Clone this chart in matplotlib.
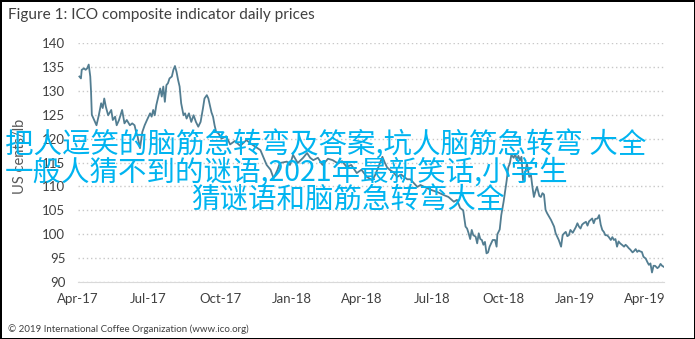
import pandas as pd
import matplotlib.pyplot as plt
import matplotlib.dates as mdates

dates = [
    "2017-04-03", "2017-04-05", "2017-04-06", "2017-04-09", "2017-04-11", "2017-04-13", "2017-04-15",
    "2017-04-17", "2017-04-18", "2017-04-19", "2017-04-22", "2017-04-25", "2017-04-28", "2017-05-01",
    "2017-05-03", "2017-05-05", "2017-05-07", "2017-05-10", "2017-05-14", "2017-05-16", "2017-05-19",
    "2017-05-21", "2017-05-24", "2017-05-28", "2017-05-31", "2017-06-03", "2017-06-07", "2017-06-10",
    "2017-06-13", "2017-06-15", "2017-06-17", "2017-06-20", "2017-06-23", "2017-06-26", "2017-06-29",
    "2017-07-03", "2017-07-05", "2017-07-07", "2017-07-09", "2017-07-11", "2017-07-13", "2017-07-16",
    "2017-07-18", "2017-07-20", "2017-07-22", "2017-07-24", "2017-07-26", "2017-07-28", "2017-07-31",
    "2017-08-02", "2017-08-04", "2017-08-06", "2017-08-08", "2017-08-10", "2017-08-12", "2017-08-15",
    "2017-08-17", "2017-08-19", "2017-08-22", "2017-08-25", "2017-08-28", "2017-08-31", "2017-09-03",
    "2017-09-06", "2017-09-09", "2017-09-11", "2017-09-14", "2017-09-16", "2017-09-18", "2017-09-20",
    "2017-09-22", "2017-09-24", "2017-09-26", "2017-09-29", "2017-10-03", "2017-10-09", "2017-10-14",
    "2017-10-20", "2017-10-27", "2017-11-04", "2017-11-11", "2017-11-22", "2017-11-30", "2017-12-05",
    "2017-12-09", "2017-12-14", "2017-12-17", "2017-12-26", "2017-12-30", "2018-01-03", "2018-01-09",
    "2018-01-16", "2018-01-21", "2018-01-25", "2018-01-29", "2018-02-04", "2018-02-10", "2018-02-17",
    "2018-02-23", "2018-03-02", "2018-03-07", "2018-03-13", "2018-03-19", "2018-03-26", "2018-04-01",
    "2018-04-08", "2018-04-15", "2018-04-19", "2018-04-23", "2018-04-28", "2018-05-01", "2018-05-04",
    "2018-05-08", "2018-05-12", "2018-05-17", "2018-05-22", "2018-05-30", "2018-06-03", "2018-06-08",
    "2018-06-12", "2018-06-16", "2018-06-25", "2018-07-01", "2018-07-08", "2018-07-16", "2018-07-22",
    "2018-07-29", "2018-08-02", "2018-08-06", "2018-08-10", "2018-08-13", "2018-08-15", "2018-08-17",
    "2018-08-19", "2018-08-21", "2018-08-23", "2018-08-26", "2018-08-28", "2018-08-30", "2018-09-01",
    "2018-09-03", "2018-09-05", "2018-09-07", "2018-09-09", "2018-09-11", "2018-09-13", "2018-09-15",
    "2018-09-17", "2018-09-20", "2018-09-22", "2018-09-23", "2018-09-26", "2018-09-28", "2018-10-01",
    "2018-10-03", "2018-10-05", "2018-10-07", "2018-10-09", "2018-10-11", "2018-10-14", "2018-10-16",
    "2018-10-18", "2018-10-20", "2018-10-22", "2018-10-24", "2018-10-26", "2018-10-29", "2018-10-31",
    "2018-11-03", "2018-11-05", "2018-11-07", "2018-11-09", "2018-11-11", "2018-11-13", "2018-11-16",
    "2018-11-18", "2018-11-20", "2018-11-22", "2018-11-24", "2018-11-26", "2018-12-01", "2018-12-05",
    "2018-12-07", "2018-12-09", "2018-12-11", "2018-12-14", "2018-12-16", "2018-12-18", "2018-12-20",
    "2018-12-22", "2018-12-24", "2018-12-26", "2018-12-29", "2018-12-31", "2019-01-02", "2019-01-04",
    "2019-01-06", "2019-01-08", "2019-01-10", "2019-01-12", "2019-01-15", "2019-01-17", "2019-01-19",
    "2019-01-21", "2019-01-23", "2019-01-25", "2019-01-27", "2019-01-30", "2019-02-01", "2019-02-03",
    "2019-02-05", "2019-02-07", "2019-02-09", "2019-02-11", "2019-02-13", "2019-02-16", "2019-02-18",
    "2019-02-20", "2019-02-22", "2019-02-24", "2019-02-26", "2019-02-28", "2019-03-03", "2019-03-05",
    "2019-03-07", "2019-03-09", "2019-03-11", "2019-03-13", "2019-03-16", "2019-03-18", "2019-03-20",
    "2019-03-22", "2019-03-24", "2019-03-26", "2019-03-28", "2019-03-30", "2019-04-02", "2019-04-04",
    "2019-04-06", "2019-04-08", "2019-04-10", "2019-04-12", "2019-04-14", "2019-04-17", "2019-04-19",
    "2019-04-21", "2019-04-23", "2019-04-25",
]
prices = [
    133.0, 132.6, 134.4, 134.7, 134.4, 134.7, 135.5,
    133.0, 129.8, 125.0, 123.9, 122.8, 124.9, 127.4,
    126.4, 128.4, 126.7, 124.9, 126.0, 123.9, 124.6,
    122.8, 123.9, 126.0, 123.2, 123.9, 122.8, 123.2,
    122.8, 121.4, 120.4, 118.0, 121.4, 122.8, 123.9,
    125.3, 124.6, 126.0, 124.9, 127.0, 128.4, 130.5,
    128.8, 130.9, 127.7, 131.2, 131.6, 132.6, 133.0,
    134.4, 135.2, 134.0, 132.3, 130.9, 127.4, 124.9,
    125.3, 124.2, 125.3, 123.5, 124.9, 123.5, 122.5,
    123.5, 126.3, 128.4, 129.1, 128.4, 127.0, 125.5,
    124.6, 122.8, 121.4, 121.1, 120.0, 120.5, 118.8,
    119.5, 118.5, 119.7, 118.8, 117.6, 114.5, 113.5,
    111.7, 113.5, 114.9, 115.2, 114.5, 116.6, 114.9,
    116.0, 117.0, 116.0, 115.5, 116.0, 114.5, 115.8,
    115.5, 114.8, 115.3, 114.1, 114.5, 112.8, 113.5,
    112.0, 111.3, 112.5, 114.1, 116.2, 115.0, 114.0,
    113.4, 113.0, 112.0, 112.5, 111.5, 111.5, 110.6,
    109.9, 110.3, 109.6, 109.2, 108.8, 108.2, 107.8,
    106.8, 107.2, 105.5, 105.0, 101.6, 101.2, 100.2,
    99.0, 100.9, 99.8, 99.5, 98.1, 100.2, 99.0,
    98.8, 97.8, 98.4, 96.0, 96.2, 97.4, 98.1,
    98.8, 98.8, 97.4, 100.0, 101.0, 104.0, 106.8,
    109.0, 111.3, 114.0, 114.8, 116.6, 116.0, 116.8,
    115.5, 116.4, 115.5, 116.2, 111.3, 113.0, 114.8,
    112.0, 112.7, 110.0, 107.8, 109.0, 109.9, 108.0,
    107.8, 108.6, 108.3, 105.1, 104.4, 103.0, 101.6,
    100.2, 99.5, 98.8, 97.4, 99.8, 100.2, 100.5,
    99.6, 99.8, 100.9, 100.3, 100.9, 101.5, 102.3,
    101.6, 101.2, 102.0, 102.3, 102.6, 101.8, 102.7,
    103.0, 103.3, 102.3, 103.2, 103.3, 104.0, 102.0,
    100.9, 100.5, 99.8, 99.8, 99.5, 98.8, 99.4,
    98.8, 99.0, 97.4, 98.5, 98.1, 97.7, 97.4,
    97.8, 97.5, 97.1, 96.8, 96.2, 96.5, 96.9,
    96.3, 96.6, 96.4, 96.3, 95.3, 94.9, 94.2,
    93.6, 93.9, 92.0, 93.4, 93.4, 92.9, 93.2,
    93.8, 93.4, 93.2,
]
y_ticks = [90, 95, 100, 105, 110, 115, 120, 125, 130, 135, 140]
x_ticks = ["2017-04-01", "2017-07-01", "2017-10-01", "2018-01-01", "2018-04-01",
           "2018-07-01", "2018-10-01", "2019-01-01", "2019-04-01"]

title = "Figure 1: ICO composite indicator daily prices"
footer = "\u00a9 2019 International Coffee Organization (www.ico.org)"
overlay = ["把人逗笑的脑筋急转弯及答案,坑人脑筋急转弯 大全",
           "一般人猜不到的谜语,2021年最新笑话,小学生",
           "猜谜语和脑筋急转弯大全"]

df = pd.DataFrame({"date": pd.to_datetime(dates), "price": prices})

plt.rcParams['font.family'] = ['Lato', 'DejaVu Sans']
fig = plt.figure(figsize=(6.95, 3.39), dpi=100, edgecolor='black', linewidth=2)
ax = fig.add_axes([0.112, 0.168, 0.844, 0.705])

ax.plot(df["date"], df["price"], color='#527d91', linewidth=1.3)

ax.set_ylim(90, 140)
ax.set_yticks(y_ticks)
ax.set_xlim(pd.Timestamp("2017-04-01"), pd.Timestamp("2019-04-26"))
ax.set_xticks(pd.to_datetime(x_ticks))
ax.xaxis.set_major_formatter(mdates.DateFormatter("%b-%y"))
ax.grid(axis='y', linestyle=(0, (1, 2)), color='#c8c8c8', linewidth=1)
ax.tick_params(length=0, labelsize=9.5, colors='#404040', pad=9)
ax.tick_params(axis='x', pad=8)
for s in ['top', 'right', 'left']:
    ax.spines[s].set_visible(False)
ax.spines['bottom'].set_color('#d9d9d9')
ax.set_ylabel("US cents/lb", fontsize=10.5, color='#595959')
ax.yaxis.set_label_coords(-0.086, 0.527)

fig.text(0.0115, 0.956, title, fontsize=11.1, color='#404040', va='center', ha='left')
fig.text(0.0115, 0.029, footer, fontsize=7, color='#404040', va='center', ha='left')

cjk = ['Noto Sans CJK SC', 'DejaVu Sans']
fig.text(5 / 695, 1 - 146 / 339, overlay[0], family=cjk, fontsize=20.5, color='#00b4f0', va='center', ha='left')
fig.text(5 / 695, 1 - 173 / 339, overlay[1], family=cjk, fontsize=20.5, color='#00b4f0', va='center', ha='left')
fig.text(348 / 695, 1 - 201 / 339, overlay[2], family=cjk, fontsize=20.5, color='#00b4f0', va='center', ha='center')

fig.savefig("out.png", dpi=100)
